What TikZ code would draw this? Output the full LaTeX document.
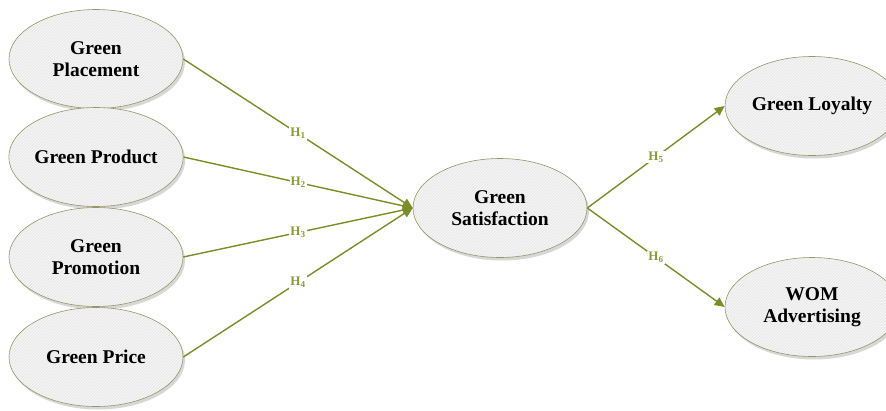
\documentclass[tikz,border=0pt]{standalone}
\usepackage{fontspec}
\setmainfont{Liberation Serif}
\usepackage{tikz}
\usetikzlibrary{positioning}
\usetikzlibrary{shapes.geometric,arrows.meta,shadows,patterns}
\definecolor{olivegreen}{RGB}{122,142,40}
\definecolor{hcolor}{RGB}{135,155,55}
\definecolor{ovalline}{RGB}{150,150,105}
\definecolor{ovalfill}{RGB}{234,234,234}

\begin{document}
\begin{tikzpicture}
                [x=1pt, y=1pt,
                 oval/.style = {ellipse, draw=ovalline, line width=0.6pt, minimum width=174pt, minimum height=99pt,
                                preaction={drop shadow={shadow xshift=2pt, shadow yshift=-3pt, fill=gray!70, opacity=0.45}},
                                preaction={fill=ovalfill}, pattern=north east lines, pattern color=white!97!gray,
                                align=center, inner sep=0pt, font=\fontsize{19.5}{22}\selectfont\bfseries},
                 arr/.style = {-{Triangle[width=9pt,length=10pt]}, draw=olivegreen, fill=olivegreen, line width=1.4pt},
                 hlab/.style = {fill=white, inner sep=1pt, text=hcolor, font=\fontsize{13}{14}\selectfont\bfseries}]
                \useasboundingbox (0,0) rectangle (886,-410);
                % Antecedents
                \node[oval] (pl) at (96, -59) {Green\\Placement};
                \node[oval] (pd) at (96,-157) {Green Product};
                \node[oval] (pm) at (96,-257) {Green\\Promotion};
                \node[oval] (pr) at (96,-357) {Green Price};
                % Mediator
                \node[oval] (sa) at (500,-208) {Green\\Satisfaction};
                % Outcomes
                \node[oval] (lo) at (812,-106) {Green Loyalty};
                \node[oval] (wo) at (812,-307) {WOM\\Advertising};

                % Hypotheses
                \draw[arr] (pl.east) -- node[hlab] {H\textsubscript{1}} (sa.west);
                \draw[arr] (pd.east) -- node[hlab] {H\textsubscript{2}} (sa.west);
                \draw[arr] (pm.east) -- node[hlab] {H\textsubscript{3}} (sa.west);
                \draw[arr] (pr.east) -- node[hlab] {H\textsubscript{4}} (sa.west);
                \draw[arr] (sa.east) -- node[hlab] {H\textsubscript{5}} (lo.west);
                \draw[arr] (sa.east) -- node[hlab] {H\textsubscript{6}} (wo.west);
            \end{tikzpicture}
\end{document}
